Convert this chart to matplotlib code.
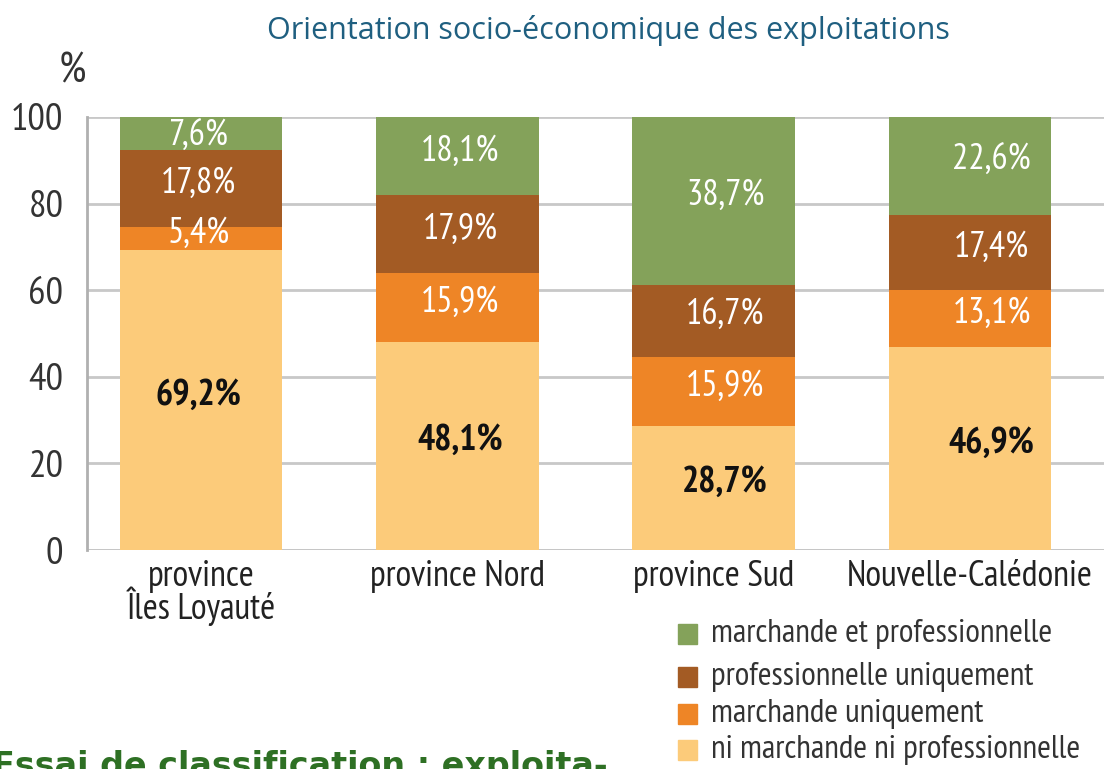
import matplotlib
matplotlib.use('Agg')
import matplotlib.pyplot as plt
from matplotlib.patches import Rectangle
import numpy as np

# data
regions = ['province\nÎles Loyauté', 'province Nord', 'province Sud', 'Nouvelle-Calédonie']
series = ['ni marchande ni professionnelle', 'marchande uniquement',
          'professionnelle uniquement', 'marchande et professionnelle']
ni_ni = [69.2, 48.1, 28.7, 46.9]
marchande = [5.4, 15.9, 15.9, 13.1]
professionnelle = [17.8, 17.9, 16.7, 17.4]
march_prof = [7.6, 18.1, 38.7, 22.6]
yticks = [0, 20, 40, 60, 80, 100]

colors = ['#fccb7a', '#ee8526', '#a35b24', '#84a25a']
narrow = ['PT Sans Narrow', 'DejaVu Sans']

fig = plt.figure(figsize=(11.04, 7.69), dpi=100)
ax = fig.add_axes([87/1104, 1 - 550/769, 1 - 87/1104, 433/769])

x = np.arange(len(regions))
width = 0.635
bottom = np.zeros(len(regions))
values = [ni_ni, marchande, professionnelle, march_prof]
label_dx = [-0.01, 0.01, 0.045, 0.085]
for k, (vals, col) in enumerate(zip(values, colors)):
    vals = np.array(vals)
    ax.bar(x, vals, width, bottom=bottom, color=col, zorder=2)
    for i, v in enumerate(vals):
        txt = f"{v:.1f}%".replace('.', ',')
        ty = min(bottom[i] + v / 2 + 1.2, 95.6)
        if k == 0:
            ax.text(x[i] + label_dx[i], ty, txt, ha='center', va='center', fontsize=26,
                    fontweight='bold', color='#111111', family=narrow, zorder=3)
        else:
            ax.text(x[i] + label_dx[i], ty, txt, ha='center', va='center', fontsize=26,
                    color='white', family=narrow, zorder=3)
    bottom += vals

ax.set_xlim(-0.445, 3.523)
ax.set_ylim(0, 100)
ax.set_yticks(yticks)
ax.set_yticklabels([str(t) for t in yticks], fontsize=28, color='#333333', family=narrow)
ax.set_xticks(x)
ax.set_xticklabels(regions, fontsize=26, color='#222222', family=narrow, linespacing=0.8, va='top')
ax.tick_params(axis='y', length=0, pad=17)
ax.tick_params(axis='x', length=0, pad=7)
ax.grid(axis='y', color='#c8c8c8', linewidth=2, zorder=0)
for s in ['top', 'right', 'bottom']:
    ax.spines[s].set_visible(False)
ax.spines['left'].set_color('#b0b0b0')
ax.spines['left'].set_linewidth(2)
ax.axhline(0, color='#b0b0b0', linewidth=2, zorder=1)

fig.text(72/1104, 1 - 72/769, '%', fontsize=31, color='#333333', family=narrow, ha='center', va='center')
fig.text(608/1104, 1 - 30/769, 'Orientation socio-économique des exploitations', fontsize=22,
         color='#1f5f80', ha='center', va='center', family=['Open Sans', 'DejaVu Sans'])

# legend, top entry first
leg_y = [634, 677, 714, 750]
for lab, col, yy in zip(series[::-1], colors[::-1], leg_y):
    fig.patches.append(Rectangle((678/1104, 1 - (yy + 10)/769), 19/1104, 20/769,
                                 transform=fig.transFigure, color=col))
    fig.text(711/1104, 1 - yy/769, lab, fontsize=24, color='#333333', family=narrow,
             ha='left', va='center')

fig.text(-8/1104, 1 - 776/769, 'Essai de classification : exploita-', fontsize=24, fontweight='bold',
         color='#2e7024', ha='left', va='baseline', family=['DejaVu Sans'])

fig.savefig('out.png', dpi=100)
